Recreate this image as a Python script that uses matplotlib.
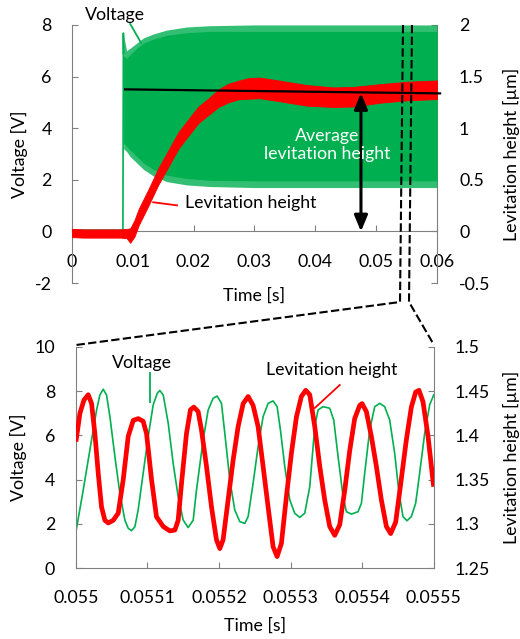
import numpy as np
import matplotlib
matplotlib.use("Agg")
import matplotlib.pyplot as plt
from matplotlib.lines import Line2D

plt.rcParams['font.family'] = ['Lato', 'DejaVu Sans']
plt.rcParams['font.size'] = 12.8

GREEN = '#00b050'
RED = '#ff0000'
GREY = '#808080'

# ---- upper chart: whole record (time in s) ----
volt_step_t = [0.0, 0.0084, 0.00848, 0.00852]
volt_step_v = [0.05, 0.05, 7.68, 6.9]

# envelope of the fast voltage oscillation (V)
env_t = [0.00852, 0.0090, 0.0096, 0.0107, 0.0118, 0.0134, 0.0156, 0.0189, 0.0227, 0.0300, 0.0400, 0.0500, 0.0600]
env_hi_tip = [7.6, 7.0, 7.1, 7.3, 7.5, 7.65, 7.8, 7.92, 7.97, 8.0, 8.0, 8.0, 8.0]
env_hi = [6.8, 6.7, 6.85, 7.1, 7.3, 7.45, 7.6, 7.7, 7.75, 7.75, 7.75, 7.75, 7.75]
env_lo = [3.4, 3.3, 3.15, 2.9, 2.65, 2.4, 2.18, 2.05, 1.98, 1.96, 1.96, 1.96, 1.96]
env_lo_tip = [3.2, 3.1, 2.9, 2.65, 2.4, 2.15, 1.93, 1.8, 1.74, 1.7, 1.7, 1.7, 1.7]

# levitation height: centre of the noisy band and its half width (um)
lev_t = [0, 0.002, 0.004, 0.006, 0.008, 0.0090, 0.0096, 0.0103, 0.0110, 0.0126, 0.0142, 0.0159,
         0.0175, 0.0192, 0.0208, 0.0225, 0.0241, 0.0257, 0.0274, 0.0290, 0.0309, 0.0342, 0.0386,
         0.0430, 0.0463, 0.0507, 0.0551, 0.0600]
lev_c = [-0.015, -0.02, -0.02, -0.02, -0.02, -0.02, -0.04, 0.03, 0.14, 0.33, 0.53, 0.71,
         0.88, 1.01, 1.13, 1.21, 1.29, 1.34, 1.37, 1.385, 1.39, 1.36, 1.318,
         1.30, 1.305, 1.337, 1.36, 1.372]
lev_w = [0.04, 0.04, 0.04, 0.04, 0.04, 0.045, 0.07, 0.08, 0.08, 0.08, 0.08, 0.08,
         0.08, 0.08, 0.08, 0.08, 0.085, 0.09, 0.09, 0.1, 0.1, 0.1, 0.1,
         0.095, 0.095, 0.09, 0.09, 0.09]

avg_t = [0.00876, 0.0605]
avg_h = [1.376, 1.337]
arrow_t = 0.0475
arrow_h = [0.0, 1.34]

top_xticks = [0, 0.01, 0.02, 0.03, 0.04, 0.05, 0.06]
top_xlabels = ['0', '0.01', '0.02', '0.03', '0.04', '0.05', '0.06']
top_vticks = [-2, 0, 2, 4, 6, 8]
top_vlabels = ['-2', '0', '2', '4', '6', '8']
top_hticks = [-0.5, 0, 0.5, 1, 1.5, 2]
top_hlabels = ['-0.5', '0', '0.5', '1', '1.5', '2']

# ---- lower chart: zoom 0.055 - 0.0555 s (time offset in us) ----
zoom_green_us = [0, 10.2, 19.5, 28.9, 33.5, 38.2, 42.8, 47.5, 54.5, 61.4, 68.4, 73.1, 77.7, 82.4,
                 87.0, 94.0, 101.0, 108.0, 113.6, 117.3, 122.0, 129.0, 135.9, 142.9, 149.9, 156.9,
                 163.9, 168.5, 177.8, 184.8, 191.8, 197.4, 203.4, 208.1, 215.1, 222.0, 229.0, 236.0,
                 240.7, 247.6, 254.6, 261.6, 268.6, 275.6, 281.2, 285.8, 291.9, 298.9, 305.8, 312.8,
                 319.8, 326.8, 333.8, 338.4, 345.4, 354.7, 360.3, 366.4, 373.4, 378.0, 385.0, 394.3,
                 399.0, 403.6, 410.6, 417.6, 424.6, 431.5, 438.5, 445.5, 451.6, 457.1, 462.7, 468.8,
                 474.8, 480.4, 487.4, 494.4, 500]
zoom_green_v = [1.64, 3.53, 5.34, 7.15, 7.83, 8.09, 7.83, 6.85, 5.04, 3.38, 2.17, 1.80, 1.69, 1.87,
                2.63, 4.29, 5.94, 7.38, 7.90, 8.03, 7.83, 6.55, 4.74, 3.23, 2.17, 1.83,
                2.17, 3.53, 5.79, 7.15, 7.68, 7.78, 7.45, 6.09, 3.98, 2.63, 2.10, 2.02,
                2.33, 3.83, 5.49, 6.85, 7.45, 7.56, 7.30, 6.25, 4.59, 3.08, 2.48, 2.29,
                2.48, 3.68, 6.40, 7.15, 7.30, 7.23, 6.70, 5.04, 3.23, 2.55, 2.44, 2.55,
                2.93, 4.29, 6.25, 7.30, 7.45, 7.30, 6.70, 5.19, 3.38, 2.33, 2.14, 2.33,
                2.93, 4.29, 6.09, 7.38, 7.83]

zoom_red_us = [0, 5.6, 11.2, 17.2, 21.9, 26.5, 31.2, 35.8, 40.5, 45.2, 52.1, 59.1, 66.1, 73.1,
               80.1, 87.0, 94.0, 98.7, 105.7, 112.6, 122.0, 131.3, 138.3, 142.9, 147.6, 154.5,
               160.1, 164.8, 170.8, 175.5, 182.5, 189.5, 196.4, 201.1, 205.7, 212.7, 219.7, 226.7,
               233.7, 240.7, 247.6, 254.6, 261.6, 268.6, 275.6, 281.2, 287.2, 294.2, 301.2, 308.2,
               315.1, 321.2, 326.8, 333.8, 340.8, 347.7, 354.7, 361.7, 368.7, 375.7, 382.7, 389.6,
               396.6, 399.9, 405.9, 412.9, 419.9, 426.9, 433.9, 439.9, 446.9, 453.4, 461.8, 468.8,
               474.8, 479.5, 485.1, 492.1, 500]
zoom_red_h = [1.393, 1.425, 1.440, 1.446, 1.436, 1.402, 1.357, 1.319, 1.304, 1.301, 1.304, 1.312,
              1.350, 1.399, 1.417, 1.419, 1.416, 1.402, 1.350, 1.308, 1.297, 1.292, 1.293, 1.304,
              1.346, 1.402, 1.429, 1.432, 1.427, 1.406, 1.365, 1.319, 1.282, 1.272, 1.282, 1.327,
              1.372, 1.410, 1.436, 1.444, 1.434, 1.410, 1.365, 1.319, 1.274, 1.263, 1.278, 1.331,
              1.380, 1.421, 1.444, 1.451, 1.446, 1.410, 1.365, 1.327, 1.297, 1.287, 1.299, 1.338,
              1.383, 1.419, 1.434, 1.436, 1.427, 1.399, 1.365, 1.327, 1.297, 1.289, 1.302, 1.342,
              1.395, 1.432, 1.449, 1.451, 1.438, 1.399, 1.342]

zoom_start = 0.055
bot_xticks = [0.055, 0.0551, 0.0552, 0.0553, 0.0554, 0.0555]
bot_xlabels = ['0.055', '0.0551', '0.0552', '0.0553', '0.0554', '0.0555']
bot_vticks = [0, 2, 4, 6, 8, 10]
bot_hticks = [1.25, 1.3, 1.35, 1.4, 1.45, 1.5]
bot_hlabels = ['1.25', '1.3', '1.35', '1.4', '1.45', '1.5']


def style(a, a2, xpad, lpad, rpad):
    for s in ['top', 'right']:
        a.spines[s].set_visible(False)
    for s in ['top', 'left', 'bottom']:
        a2.spines[s].set_visible(False)
    a.spines['left'].set_color(GREY)
    a.spines['bottom'].set_color(GREY)
    a2.spines['right'].set_color(GREY)
    a.tick_params(axis='x', direction='in', length=4.5, color=GREY, pad=xpad)
    a.tick_params(axis='y', direction='in', length=4.5, color=GREY, pad=lpad)
    a2.tick_params(axis='y', direction='in', length=4.5, color=GREY, pad=rpad)


fig = plt.figure(figsize=(5.2, 6.39), dpi=100)

# ---------------- upper chart ----------------
ax = fig.add_axes([0.138, 0.557, 0.7025, 0.404])
ax2 = ax.twinx()

ax.plot(volt_step_t, volt_step_v, color=GREEN, lw=1.2)
ax2.fill_between(env_t, env_lo_tip, env_hi_tip, transform=ax.transData,
                 color=GREEN, alpha=0.8, lw=0, zorder=1)
ax2.fill_between(env_t, env_lo, env_hi, transform=ax.transData,
                 color=GREEN, lw=0, zorder=1.1)
lc = np.array(lev_c)
lw_ = np.array(lev_w)
ax2.fill_between(lev_t, lc - lw_, lc + lw_, color=RED, lw=0.6, edgecolor=RED, zorder=2)
ax2.plot(avg_t, avg_h, color='black', lw=1.6, zorder=3, clip_on=False)
ax2.annotate('', xy=(arrow_t, arrow_h[1]), xytext=(arrow_t, arrow_h[0]),
             arrowprops=dict(arrowstyle='<|-|>,head_length=0.6,head_width=0.25',
                             color='black', lw=2.2, mutation_scale=16,
                             shrinkA=0, shrinkB=0), zorder=4)
ax2.text(0.042, 0.835, 'Average\nlevitation height', color='white', ha='center',
         va='center', linespacing=1.15, zorder=6)

ax.set_xlim(0, 0.06)
ax.set_ylim(-2, 8)
ax2.set_ylim(-0.5, 2)
ax.spines['bottom'].set_position(('data', 0))
style(ax, ax2, 16, 14.4, 15.8)
ax2.spines['right'].set_zorder(0.5)
ax2.yaxis.set_zorder(0.5)

ax.set_xticks(top_xticks, top_xlabels)
ax.set_yticks(top_vticks, top_vlabels)
ax2.set_yticks(top_hticks, top_hlabels)
ax.set_xlabel('Time [s]')
ax.xaxis.set_label_coords(0.5, -0.019)
ax.set_ylabel('Voltage [V]')
ax.yaxis.set_label_coords(-0.12, 0.5)
ax2.set_ylabel('Levitation height [µm]')
ax2.yaxis.set_label_coords(1.181, 0.5)

ax.text(0.0071, 8.39, 'Voltage', ha='center', va='center')
ax.plot([0.0096, 0.0114], [8.04, 7.30], color=GREEN, lw=1.3, clip_on=False)
ax.text(0.0186, 1.09, 'Levitation height', ha='left', va='center')
ax.plot([0.01337, 0.0173], [1.13, 1.01], color=RED, lw=1.3)

# ---------------- lower chart ----------------
bx = fig.add_axes([0.146, 0.111, 0.688, 0.346])
bx2 = bx.twinx()

t_g = zoom_start + np.array(zoom_green_us) * 1e-6
t_r = zoom_start + np.array(zoom_red_us) * 1e-6
bx.plot(t_g, zoom_green_v, color=GREEN, lw=1.2)
bx2.plot(t_r, zoom_red_h, color=RED, lw=3.4, solid_capstyle='butt')

bx.set_xlim(0.055, 0.0555)
bx.set_ylim(0, 10)
bx2.set_ylim(1.25, 1.5)
style(bx, bx2, 15.8, 15, 15)
bx2.spines['right'].set_zorder(1)

bx.set_xticks(bot_xticks, bot_xlabels)
bx.set_yticks(bot_vticks)
bx2.set_yticks(bot_hticks, bot_hlabels)
bx.set_xlabel('Time [s]')
bx.xaxis.set_label_coords(0.5, -0.222)
bx.set_ylabel('Voltage [V]')
bx.yaxis.set_label_coords(-0.137, 0.5)
bx2.set_ylabel('Levitation height [µm]')
bx2.yaxis.set_label_coords(1.193, 0.5)

bx.text(0.0550918, 9.28, 'Voltage', ha='center', va='center')
bx.plot([0.0551034, 0.0551034], [8.82, 7.51], color=GREEN, lw=1.3)
bx2.text(0.0553575, 1.25 + 8.96 * 0.025, 'Levitation height', ha='center', va='center')
bx2.plot([0.0553687, 0.0553338], [1.25 + 8.28 * 0.025, 1.25 + 7.24 * 0.025], color=RED, lw=1.3)

# dashed guides linking the two charts (figure pixels / size)
W, H = 520.0, 639.0
guide_a = [(403, 25), (400, 302), (76, 345)]
guide_b = [(412, 25), (409, 302), (434, 345)]
for g in (guide_a, guide_b):
    xs = [p[0] / W for p in g]
    ys = [1 - p[1] / H for p in g]
    fig.add_artist(Line2D(xs, ys, transform=fig.transFigure, color='black',
                          lw=1.5, linestyle=(0, (4, 1.6))))

fig.savefig('out.png', dpi=100)
